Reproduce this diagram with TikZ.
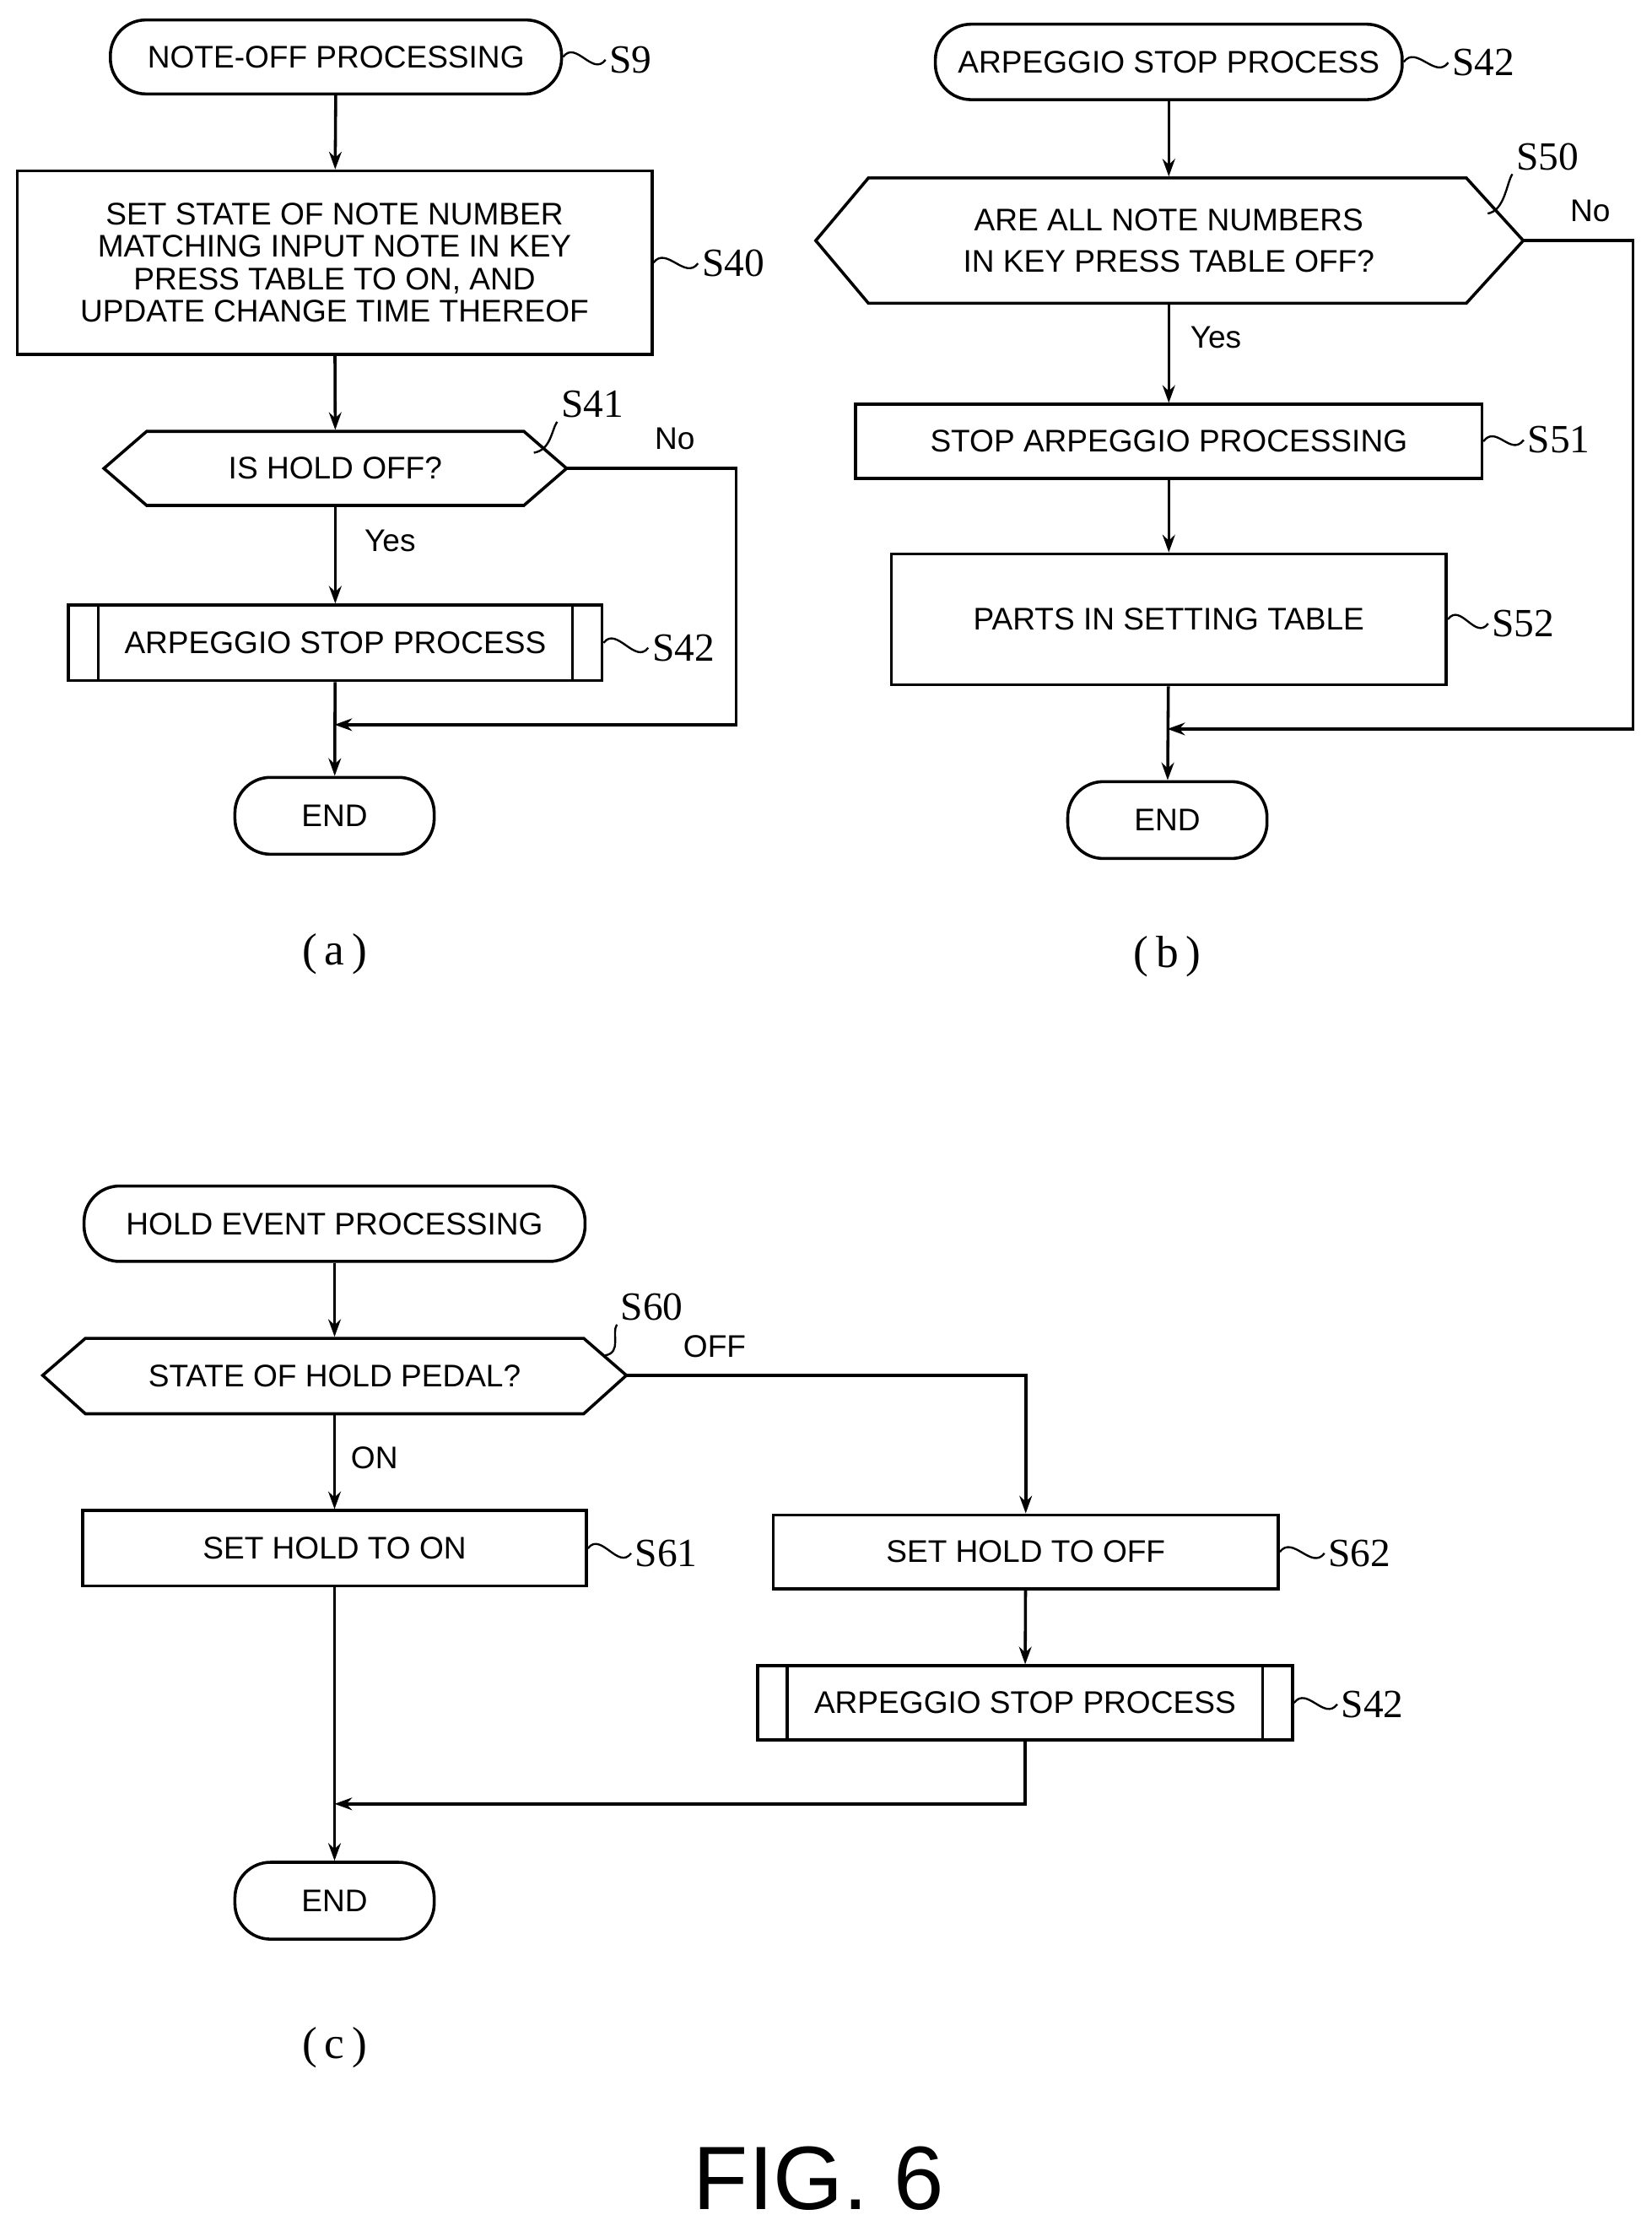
\documentclass[tikz,border=0pt]{standalone}
\usepackage{fontspec}
\setmainfont{Liberation Sans}
\newfontfamily\serifl{Liberation Serif}
\usetikzlibrary{arrows.meta}
\begin{document}
\begin{tikzpicture}[x=0.02cm,y=-0.02cm,line width=1.2pt,
  every node/.style={font=\fontsize{12.5}{13.5}\selectfont},
  term/.style={draw,rounded corners=0.5cm,inner sep=0pt},
  box/.style={draw,inner sep=0pt,align=center},
  lab/.style={font=\serifl\fontsize{16}{16}\selectfont,inner sep=1pt},
  yn/.style={inner sep=0pt},
  arr/.style={-{Stealth[length=7pt,width=5pt]}},
  sq/.style={line width=0.8pt}]
\useasboundingbox (0,0) rectangle (1160,1567);
\newcommand\squig[2]{\draw[sq] (#1) .. controls +(9,-12) and +(-9,12) .. (#2);}
\newcommand\pred[1]{\draw ([xshift=0.44cm]#1.north west) -- ([xshift=0.44cm]#1.south west);
  \draw ([xshift=-0.44cm]#1.north east) -- ([xshift=-0.44cm]#1.south east);}
% (a)
\node[term,minimum width=6.34cm,minimum height=1.04cm] (a0) at (236,40) {NOTE-OFF PROCESSING};
\node[lab] (la0) at (443,42) {S9};
\squig{a0.east}{la0.west}
\node[box,minimum width=8.92cm,minimum height=2.58cm,font=\fontsize{12.5}{13}\selectfont] (a1) at (235,184.5)
 {SET STATE OF NOTE NUMBER\\MATCHING INPUT NOTE IN KEY\\PRESS TABLE TO ON, AND\\UPDATE CHANGE TIME THEREOF};
\node[lab] (la1) at (515,185) {S40};
\squig{a1.east}{la1.west}
\draw (73,329) -- (103,303) -- (368,303) -- (398,329) -- (368,355) -- (103,355) -- cycle;
\node[minimum width=6.5cm,minimum height=1.04cm,inner sep=0pt] (a2) at (235.5,329) {IS HOLD OFF?};
\coordinate (a2r) at (398,329);
\coordinate (a2c) at (375,318);
\node[lab] (la2) at (416,284) {S41};
\draw[sq] (a2c) .. controls +(12,-2) and +(-4,6) .. (la2.south west);
\node[yn] at (474,308) {No};
\node[yn] at (274,380) {Yes};
\node[box,minimum width=7.5cm,minimum height=1.06cm] (a3) at (235.5,451.5) {ARPEGGIO STOP PROCESS};
\pred{a3}
\node[lab] (la3) at (480,455) {S42};
\squig{a3.east}{la3.west}
\node[term,minimum width=2.8cm,minimum height=1.08cm] (a4) at (235,573) {END};
\coordinate (ja) at (235,509);
\draw[arr] (a0) -- (a1);
\draw[arr] (a1) -- (a2.north);
\draw[arr] (a2.south) -- (a3);
\draw[arr] (a3) -- (a4);
\draw[arr] (a2r) -- (517,329) |- (ja);
\node[font=\serifl\fontsize{18}{18}\selectfont] at (235,670) {(\,a\,)};
% (b)
\node[term,minimum width=6.56cm,minimum height=1.06cm] (b0) at (821,43.5) {ARPEGGIO STOP PROCESS};
\node[lab] (lb0) at (1042,44) {S42};
\squig{b0.east}{lb0.west}
\draw (573,169) -- (610,125) -- (1030,125) -- (1070,169) -- (1030,213) -- (610,213) -- cycle;
\node[minimum width=8.4cm,minimum height=1.76cm,inner sep=0pt,align=center] (b1) at (821,169)
 {ARE ALL NOTE NUMBERS\\[3pt]IN KEY PRESS TABLE OFF?};
\coordinate (b1r) at (1070,169);
\coordinate (b1c) at (1045,150);
\node[lab] (lb1) at (1087,110) {S50};
\draw[sq] (b1c) .. controls +(12,-2) and +(-4,6) .. (lb1.south west);
\node[yn] at (1117,148) {No};
\node[yn] at (854,237) {Yes};
\node[box,minimum width=8.8cm,minimum height=1.04cm] (b2) at (821,310) {STOP ARPEGGIO PROCESSING};
\node[lab] (lb2) at (1095,309) {S51};
\squig{b2.east}{lb2.west}
\node[box,minimum width=7.8cm,minimum height=1.84cm] (b3) at (821,435) {PARTS IN SETTING TABLE};
\node[lab] (lb3) at (1070,438) {S52};
\squig{b3.east}{lb3.west}
\node[term,minimum width=2.8cm,minimum height=1.08cm] (b4) at (820,576) {END};
\coordinate (jb) at (820,512);
\draw[arr] (b0) -- (b1.north);
\draw[arr] (b1.south) -- (b2);
\draw[arr] (b2) -- (b3);
\draw[arr] (b3) -- (b4);
\draw[arr] (b1r) -- (1147,169) |- (jb);
\node[font=\serifl\fontsize{18}{18}\selectfont] at (820,672) {(\,b\,)};
% (c)
\node[term,minimum width=7.04cm,minimum height=1.06cm] (c0) at (235,859.5) {HOLD EVENT PROCESSING};
\draw (30,966) -- (60,940) -- (410,940) -- (440,966) -- (410,993) -- (60,993) -- cycle;
\node[minimum width=8cm,minimum height=1.06cm,inner sep=0pt] (c1) at (235,966.5) {STATE OF HOLD PEDAL?};
\coordinate (c1r) at (440,966);
\node[lab] (lc1) at (458,918) {S60};
\draw[sq] (425,952) .. controls +(12,-2) and +(-4,6) .. (lc1.south west);
\node[yn] at (502,946) {OFF};
\node[yn] at (263,1024) {ON};
\node[box,minimum width=7.08cm,minimum height=1.06cm] (c2) at (235,1087.5) {SET HOLD TO ON};
\node[lab] (lc2) at (468,1091) {S61};
\squig{c2.east}{lc2.west}
\node[box,minimum width=7.1cm,minimum height=1.04cm] (c3) at (720.5,1090) {SET HOLD TO OFF};
\node[lab] (lc3) at (955,1091) {S62};
\squig{c3.east}{lc3.west}
\node[box,minimum width=7.52cm,minimum height=1.04cm] (c4) at (720,1196) {ARPEGGIO STOP PROCESS};
\pred{c4}
\node[lab] (lc4) at (964,1197) {S42};
\squig{c4.east}{lc4.west}
\node[term,minimum width=2.8cm,minimum height=1.08cm] (c5) at (235,1335) {END};
\coordinate (jc) at (235,1267);
\draw[arr] (c0) -- (c1.north);
\draw[arr] (c1.south) -- (c2);
\draw[arr] (c2) -- (c5);
\draw[arr] (c1r) -| (c3.north);
\draw[arr] (c3) -- (c4);
\draw[arr] (c4.south) |- (jc);
\node[font=\serifl\fontsize{18}{18}\selectfont] at (235,1438) {(\,c\,)};
\node[font=\fontsize{36}{36}\selectfont] at (575,1530) {FIG. 6};
\end{tikzpicture}
\end{document}
